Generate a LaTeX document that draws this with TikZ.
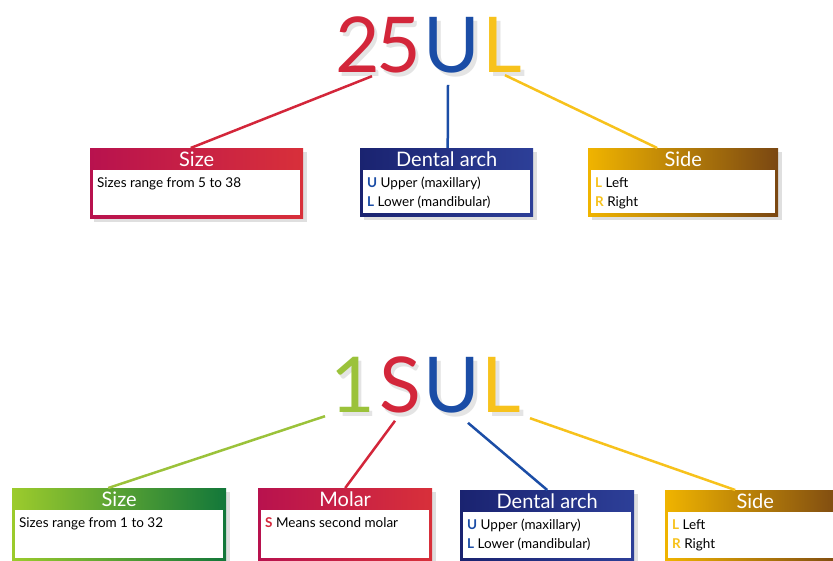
\documentclass[tikz,border=0pt]{standalone}
\usepackage{fontspec}
\setmainfont{Lato}
\usetikzlibrary{shadows}

\definecolor{codeRed}{HTML}{D3263A}
\definecolor{codeBlue}{HTML}{1B4DA6}
\definecolor{codeYellow}{HTML}{F7C21C}
\definecolor{codeGreen}{HTML}{9BC23A}
\definecolor{crimsonL}{HTML}{B8124E}
\definecolor{crimsonR}{HTML}{D8303A}
\definecolor{navyL}{HTML}{1A2370}
\definecolor{navyR}{HTML}{2D3F98}
\definecolor{goldL}{HTML}{F0B400}
\definecolor{goldR}{HTML}{7A4712}
\definecolor{greenL}{HTML}{9CCB2C}
\definecolor{greenR}{HTML}{12773A}

\begin{document}
\begin{tikzpicture}[
    x=1pt, y=-1pt,
    letter/.style={font=\fontsize{77}{77}\selectfont, anchor=base, inner sep=0pt},
    lettershade/.style={letter, text=black!30, opacity=0.35},
    link/.style={line width=2.5pt},
    tagframe/.style={rectangle, anchor=north west, inner sep=0pt,
        drop shadow={shadow xshift=4pt, shadow yshift=-4pt, opacity=0.25}},
    head/.style={text=white, font=\fontsize{20}{20}\selectfont, inner sep=0pt},
    card/.style={rectangle, fill=white, anchor=north, inner sep=0pt},
    info/.style={anchor=north west, align=left, font=\fontsize{13.5}{19}\selectfont, inner sep=0pt}
]
\useasboundingbox (0,0) rectangle (833,561);

% Code 25UL
\node[lettershade] (d2TopShade) at (361,77) {\makebox[0pt]{2}};
\node[lettershade] (d5TopShade) at (402,77) {\makebox[0pt]{5}};
\node[lettershade] (uTopShade) at (456,77) {\makebox[0pt]{U}};
\node[lettershade] (lTopShade) at (506,77) {\makebox[0pt]{L}};
\node[letter, text=codeRed] (d2Top) at (358,73) {\makebox[0pt]{2}};
\node[letter, text=codeRed] (d5Top) at (399,73) {\makebox[0pt]{5}};
\node[letter, text=codeBlue] (uTop) at (452,73) {\makebox[0pt]{U}};
\node[letter, text=codeYellow] (lTop) at (502,73) {\makebox[0pt]{L}};

% Size
\node[tagframe, left color=crimsonL, right color=crimsonR, minimum width=213pt, minimum height=70pt] (sizeTop) at (90,148) {};
\node[head] (sizeTopHead) at ([yshift=-11pt]sizeTop.north) {Size};
\node[card, minimum width=207pt, minimum height=45pt] (sizeTopBody) at ([yshift=-22pt]sizeTop.north) {};
\node[info] (sizeTopText) at ([xshift=4pt,yshift=-7pt]sizeTopBody.north west) {Sizes range from 5 to 38};

% Dental arch
\node[tagframe, left color=navyL, right color=navyR, minimum width=173pt, minimum height=68pt] (archTop) at (360,148) {};
\node[head] (archTopHead) at ([yshift=-11pt]archTop.north) {Dental arch};
\node[card, minimum width=167pt, minimum height=43pt] (archTopBody) at ([yshift=-22pt]archTop.north) {};
\node[info] (archTopText) at ([xshift=4pt,yshift=-7pt]archTopBody.north west)
    {\textbf{\color{codeBlue}U} Upper (maxillary)\\\textbf{\color{codeBlue}L} Lower (mandibular)};

% Side
\node[tagframe, left color=goldL, right color=goldR, minimum width=190pt, minimum height=68pt] (sideTop) at (588,148) {};
\node[head] (sideTopHead) at ([yshift=-11pt]sideTop.north) {Side};
\node[card, minimum width=184pt, minimum height=43pt] (sideTopBody) at ([yshift=-22pt]sideTop.north) {};
\node[info] (sideTopText) at ([xshift=4pt,yshift=-7pt]sideTopBody.north west)
    {\textbf{\color{codeYellow}L} Left\\\textbf{\color{codeYellow}R} Right};

\draw[link, codeRed] ([xshift=14pt,yshift=-3pt]d2Top.south) -- ([xshift=-6pt]sizeTop.north);
\draw[link, codeBlue] ([xshift=-4pt,yshift=-11pt]uTop.south) -- ([xshift=1pt]archTop.north);
\draw[link, codeYellow] ([xshift=3pt,yshift=-2pt]lTop.south) -- ([xshift=-26pt]sideTop.north);

% Code 1SUL
\node[lettershade] (oneBotShade) at (356,417) {\makebox[0pt]{1}};
\node[lettershade] (sBotShade) at (403,417) {\makebox[0pt]{S}};
\node[lettershade] (uBotShade) at (456,417) {\makebox[0pt]{U}};
\node[lettershade] (lBotShade) at (505,417) {\makebox[0pt]{L}};
\node[letter, text=codeGreen] (oneBot) at (353,413) {\makebox[0pt]{1}};
\node[letter, text=codeRed] (sBot) at (400,413) {\makebox[0pt]{S}};
\node[letter, text=codeBlue] (uBot) at (452,413) {\makebox[0pt]{U}};
\node[letter, text=codeYellow] (lBot) at (501,413) {\makebox[0pt]{L}};

% Size
\node[tagframe, left color=greenL, right color=greenR, minimum width=214pt, minimum height=73pt] (sizeBot) at (12,488) {};
\node[head] (sizeBotHead) at ([yshift=-11pt]sizeBot.north) {Size};
\node[card, minimum width=208pt, minimum height=48pt] (sizeBotBody) at ([yshift=-22pt]sizeBot.north) {};
\node[info] (sizeBotText) at ([xshift=4pt,yshift=-7pt]sizeBotBody.north west) {Sizes range from 1 to 32};

% Molar
\node[tagframe, left color=crimsonL, right color=crimsonR, minimum width=174pt, minimum height=73pt] (molarBot) at (258,488) {};
\node[head] (molarBotHead) at ([yshift=-11pt]molarBot.north) {Molar};
\node[card, minimum width=168pt, minimum height=48pt] (molarBotBody) at ([yshift=-22pt]molarBot.north) {};
\node[info] (molarBotText) at ([xshift=4pt,yshift=-7pt]molarBotBody.north west)
    {\textbf{\color{codeRed}S} Means second molar};

% Dental arch
\node[tagframe, left color=navyL, right color=navyR, minimum width=174pt, minimum height=71pt] (archBot) at (460,490) {};
\node[head] (archBotHead) at ([yshift=-11pt]archBot.north) {Dental arch};
\node[card, minimum width=168pt, minimum height=46pt] (archBotBody) at ([yshift=-22pt]archBot.north) {};
\node[info] (archBotText) at ([xshift=4pt,yshift=-7pt]archBotBody.north west)
    {\textbf{\color{codeBlue}U} Upper (maxillary)\\\textbf{\color{codeBlue}L} Lower (mandibular)};

% Side
\node[tagframe, left color=goldL, right color=goldR, minimum width=180pt, minimum height=71pt] (sideBot) at (665,490) {};
\node[head] (sideBotHead) at ([yshift=-11pt]sideBot.north) {Side};
\node[card, minimum width=174pt, minimum height=46pt] (sideBotBody) at ([yshift=-22pt]sideBot.north) {};
\node[info] (sideBotText) at ([xshift=4pt,yshift=-7pt]sideBotBody.north west)
    {\textbf{\color{codeYellow}L} Left\\\textbf{\color{codeYellow}R} Right};

\draw[link, codeGreen] ([xshift=-28pt,yshift=-3pt]oneBot.south) -- ([xshift=-11pt]sizeBot.north);
\draw[link, codeRed] ([xshift=-5pt,yshift=-7pt]sBot.south) -- (molarBot.north);
\draw[link, codeBlue] ([xshift=16pt,yshift=-9pt]uBot.south) -- (archBot.north);
\draw[link, codeYellow] ([xshift=29pt,yshift=-5pt]lBot.south) -- ([xshift=-20pt]sideBot.north);

\end{tikzpicture}
\end{document}
